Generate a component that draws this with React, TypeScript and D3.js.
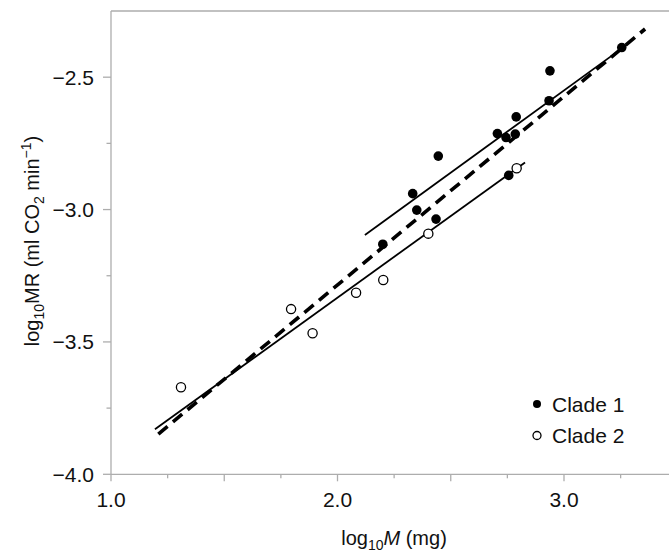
import React from "react";
import * as d3 from "d3";

// ---- data ----
const clade1X = [3.255, 2.938, 2.934, 2.789, 2.706, 2.744, 2.785, 2.445, 2.332, 2.35, 2.435, 2.756, 2.2];
const clade1Y = [-2.388, -2.476, -2.589, -2.65, -2.713, -2.728, -2.715, -2.798, -2.94, -3.002, -3.036, -2.871, -3.131];
const clade2X = [2.791, 2.401, 2.202, 2.082, 1.795, 1.89, 1.309];
const clade2Y = [-2.844, -3.091, -3.266, -3.314, -3.376, -3.467, -3.671];

// regression lines: [x0, x1], [y0, y1]
const allFitX = [1.209, 3.358];
const allFitY = [-3.848, -2.318];
const clade1FitX = [2.121, 3.277];
const clade1FitY = [-3.096, -2.378];
const clade2FitX = [1.194, 2.828];
const clade2FitY = [-3.83, -2.822];

const xMajorTicks = [1.0, 2.0, 3.0];
const xMidTicks = [1.5, 2.5];
const xMinorTicks = [1.25, 1.75, 2.25, 2.75, 3.25];
const yMajorTicks = [-4.0, -3.5, -3.0, -2.5];
const yMinorTicks = [-3.75, -3.25, -2.75];
const legendLabels = ["Clade 1", "Clade 2"];

const W = 669;
const H = 552;
const FONT = "'Liberation Sans', Arial, Helvetica, sans-serif";
const AXIS = "#adadad";

export default function App() {
  const x = d3.scaleLinear().domain([1.0, 3.5]).range([111, 677.25]);
  const y = d3.scaleLinear().domain([-4.0, -2.25]).range([474.3, 11]);
  const line = d3
    .line<[number, number]>()
    .x((d) => x(d[0]))
    .y((d) => y(d[1]));
  const pts = (xs: number[], ys: number[]) => xs.map((v, i) => [v, ys[i]] as [number, number]);
  const fmt = (v: number) => (v < 0 ? "\u2212" + Math.abs(v).toFixed(1) : v.toFixed(1));
  const x0 = x(1.0);
  const yb = y(-4.0);

  return (
    <svg
      width={W}
      height={H}
      style={{ position: "absolute", left: 0, top: 0, background: "#fff" }}
      fontFamily={FONT}
    >
      {/* frame */}
      <line x1={x0} x2={W + 20} y1={y(-2.25)} y2={y(-2.25)} stroke={AXIS} strokeWidth={1.3} />
      <line x1={x0} x2={x0} y1={y(-2.25)} y2={yb} stroke={AXIS} strokeWidth={1.3} />
      <line x1={x0} x2={W + 20} y1={yb} y2={yb} stroke={AXIS} strokeWidth={1.3} />

      {/* y ticks */}
      {yMajorTicks.map((t) => (
        <g key={"ym" + t}>
          <line x1={x0 - 8} x2={x0} y1={y(t)} y2={y(t)} stroke={AXIS} strokeWidth={1.3} />
          <text x={94} y={y(t) + 7.5} textAnchor="end" fontSize={21} fill="#111">
            {fmt(t)}
          </text>
        </g>
      ))}
      {yMinorTicks.map((t) => (
        <line key={"yn" + t} x1={x0 - 4.5} x2={x0} y1={y(t)} y2={y(t)} stroke={AXIS} strokeWidth={1.3} />
      ))}

      {/* x ticks */}
      {xMajorTicks.map((t) => (
        <g key={"xm" + t}>
          <line x1={x(t)} x2={x(t)} y1={yb} y2={yb + 7} stroke={AXIS} strokeWidth={1.3} />
          <text x={x(t)} y={507} textAnchor="middle" fontSize={21} fill="#111">
            {fmt(t)}
          </text>
        </g>
      ))}
      {xMidTicks.map((t) => (
        <line key={"xd" + t} x1={x(t)} x2={x(t)} y1={yb} y2={yb + 7} stroke={AXIS} strokeWidth={1.3} />
      ))}
      {xMinorTicks.map((t) => (
        <line key={"xn" + t} x1={x(t)} x2={x(t)} y1={yb} y2={yb + 4} stroke={AXIS} strokeWidth={1.3} />
      ))}

      {/* axis titles */}
      <text x={394} y={545} textAnchor="middle" fontSize={20} fill="#111">
        <tspan>log</tspan>
        <tspan fontSize={14} dy={5}>10</tspan>
        <tspan dy={-5} fontStyle="italic">M</tspan>
        <tspan> (mg)</tspan>
      </text>
      <text transform="translate(39,241) rotate(-90)" textAnchor="middle" fontSize={20} fill="#111">
        <tspan>log</tspan>
        <tspan fontSize={14} dy={5}>10</tspan>
        <tspan dy={-5}>MR (ml CO</tspan>
        <tspan fontSize={14} dy={5}>2</tspan>
        <tspan dy={-5}> min</tspan>
        <tspan fontSize={14} dy={-8}>{"\u22121"}</tspan>
        <tspan dy={8}>)</tspan>
      </text>

      {/* regression lines */}
      <path d={line(pts(clade2FitX, clade2FitY)) || ""} stroke="#000" strokeWidth={1.8} fill="none" />
      <path d={line(pts(clade1FitX, clade1FitY)) || ""} stroke="#000" strokeWidth={1.8} fill="none" />
      <path
        d={line(pts(allFitX, allFitY)) || ""}
        stroke="#000"
        strokeWidth={3.6}
        strokeDasharray="12 7"
        fill="none"
      />

      {/* points */}
      {clade2X.map((v, i) => (
        <circle key={"c2" + i} cx={x(v)} cy={y(clade2Y[i])} r={4.6} fill="#fff" stroke="#000" strokeWidth={1.3} />
      ))}
      {clade1X.map((v, i) => (
        <circle key={"c1" + i} cx={x(v)} cy={y(clade1Y[i])} r={4.8} fill="#000" />
      ))}

      {/* legend */}
      {legendLabels.map((lab, i) => (
        <g key={lab} transform={`translate(537,${404 + i * 31.5})`}>
          <circle
            r={4}
            fill={i === 0 ? "#000" : "#fff"}
            stroke="#000"
            strokeWidth={i === 0 ? 0 : 1.3}
          />
          <text x={15} y={7.5} fontSize={21} fill="#111">
            {lab}
          </text>
        </g>
      ))}
    </svg>
  );
}
